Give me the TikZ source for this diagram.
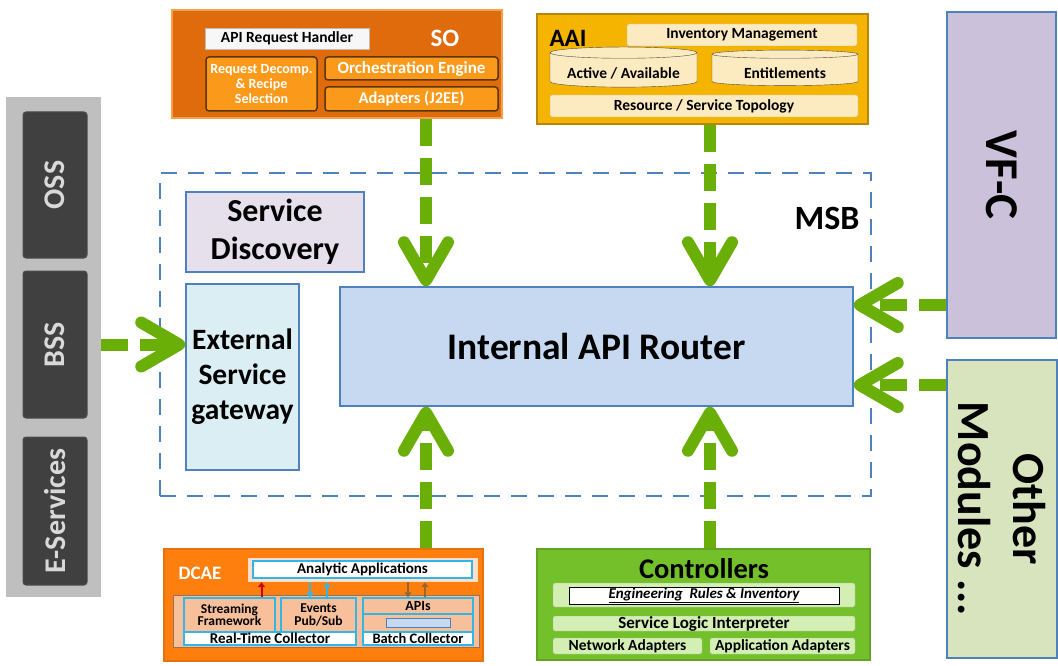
\documentclass[tikz,border=0pt]{standalone}
\usepackage{fontspec}
\setmainfont{Carlito}
\usepackage{xcolor}
\usepackage{tikz}
\usetikzlibrary{
  arrows.meta, positioning, shapes.geometric, calc
}
\definecolor{msBlue}{HTML}{4F81BD}
\definecolor{msGreen}{HTML}{6AAF08}
\definecolor{msGray}{HTML}{BFBFBF}
\definecolor{msDark}{HTML}{404040}
\definecolor{msLight}{HTML}{D9D9D9}
\definecolor{msLavender}{HTML}{E5E0EC}
\definecolor{msIce}{HTML}{DBEEF4}
\definecolor{msRouter}{HTML}{C6D9F1}
\definecolor{msPurple}{HTML}{CCC1DA}
\definecolor{msSage}{HTML}{D7E4BD}
\definecolor{soMain}{HTML}{DF6B0D}
\definecolor{soEdge}{HTML}{F6A04D}
\definecolor{soInner}{HTML}{FB9A1A}
\definecolor{soLine}{HTML}{5A3608}
\definecolor{aaiMain}{HTML}{F5B400}
\definecolor{aaiEdge}{HTML}{B8860B}
\definecolor{aaiCream}{HTML}{FCEBC0}
\definecolor{dcMain}{HTML}{FF7F0E}
\definecolor{dcPeach}{HTML}{F8C09A}
\definecolor{dcCyan}{HTML}{33B6E6}
\definecolor{ctMain}{HTML}{74C02A}
\definecolor{ctSoft}{HTML}{D3EFB4}
\newcommand{\msfs}[2]{\fontsize{#1}{#2}\selectfont\bfseries}
\tikzset{
  ms-box/.style={
    rectangle, draw=msBlue, line width=1.5pt, align=center, inner sep=0pt
  },
  ms-dash/.style={
    rectangle, draw=msBlue, line width=1.8pt, dash pattern=on 16pt off 11pt
  },
  ms-panel/.style={rectangle, fill=msGray, inner sep=0pt},
  ms-dark/.style={
    rectangle, rounded corners=3pt, draw=black!70, line width=1pt,
    fill=msDark, text=msLight, minimum height=64pt, inner sep=0pt,
    font=\msfs{30}{32}
  },
  ms-block/.style={rectangle, line width=2pt, inner sep=0pt},
  ms-so/.style={
    rectangle, rounded corners=3pt, draw=soLine, line width=1.5pt,
    fill=soInner, text=white, align=center, inner sep=0pt
  },
  ms-aai/.style={
    rectangle, rounded corners=2pt, draw=aaiEdge!60, fill=aaiCream,
    inner sep=0pt, font=\msfs{15.5}{17}
  },
  ms-drum/.style={
    cylinder, shape border rotate=90, aspect=0.1, draw=black!70,
    fill=aaiCream, inner sep=0pt, text height=20pt, text depth=3pt,
    font=\msfs{15.5}{17}
  },
  ms-dc/.style={
    rectangle, draw=dcCyan, line width=1.2pt, fill=dcPeach, align=center,
    inner sep=0pt, font=\msfs{14}{12.5}
  },
  ms-ct/.style={
    rectangle, rounded corners=2pt, draw=ctMain!60!black!50, fill=ctSoft,
    inner sep=0pt, font=\msfs{15.5}{17}
  },
  ms-flow/.style={
    draw=msGreen, line width=12pt, dash pattern=on 27pt off 12pt,
    -{Straight Barb[length=38pt, width=44pt, line width=12pt, round]}
  },
  ms-tick/.style={line width=2pt, -{Triangle[length=5pt, width=7pt]}},
}

\begin{document}
\begin{tikzpicture}[x=1pt, y=-1pt, font=\bfseries]
  \useasboundingbox (0,0) rectangle (1058,666);

  \node[ms-panel, minimum width=95pt, minimum height=500pt] (ossbss) at (53.5,347) {};
  \node[ms-dark, rotate=90, minimum width=146pt] (oss) at (55,185) {OSS};
  \node[ms-dark, rotate=90, minimum width=147pt] (bss) at (55,344.5) {BSS};
  \node[ms-dark, rotate=90, minimum width=148pt] (eserv) at (55,511) {E-Services};

  \node[ms-dash, minimum width=711pt, minimum height=323pt] (msb) at (515.5,334.5) {};
  \node[font=\msfs{34}{36}] (msblabel) at (827,218) {MSB};
  \node[ms-box, fill=msLavender, minimum width=178pt, minimum height=80pt,
        font=\msfs{32}{38}] (disc) at (275,232) {Service\\Discovery};
  \node[ms-box, fill=msIce, minimum width=113pt, minimum height=186pt,
        font=\msfs{29.5}{35}] (gw) at (242.5,377) {External\\Service\\gateway};
  \node[ms-box, fill=msRouter, minimum width=513pt, minimum height=119pt,
        font=\msfs{37.5}{40}] (router) at (596.5,346.5) {Internal API Router};

  \node[ms-box, fill=msPurple, rotate=-90, minimum width=326pt, minimum height=109pt,
        font=\msfs{47}{50}] (vfc) at (1001.5,175) {VF-C};
  \node[ms-box, fill=msSage, rotate=-90, minimum width=298pt, minimum height=110pt,
        font=\msfs{46}{55}] (others) at (1002,509) {Other\\Modules ...};

  \node[ms-block, fill=soMain, draw=soEdge, minimum width=330pt, minimum height=108pt] (so) at (337,64) {};
  \node[rectangle, fill=black!3, draw=soEdge!50!black!40, minimum width=164pt, minimum height=21pt,
        inner sep=0pt, font=\msfs{15.5}{16}] (sohandler) at (287,38.5) {API Request Handler};
  \node[text=white, font=\msfs{25}{28}] (solabel) at (445,38) {SO};
  \node[ms-so, minimum width=111pt, minimum height=54pt, font=\msfs{14}{15}] (sodecomp) at (261.5,84) {Request Decomp.\\\& Recipe\\Selection};
  \node[ms-so, minimum width=173pt, minimum height=23pt, font=\msfs{17}{18}] (soengine) at (411.5,68.5) {Orchestration Engine};
  \node[ms-so, minimum width=173pt, minimum height=24pt, font=\msfs{16.5}{18}] (soadapt) at (411.5,99) {Adapters (J2EE)};

  \node[ms-block, fill=aaiMain, draw=aaiEdge, minimum width=331pt, minimum height=110pt] (aai) at (702.5,69) {};
  \node[font=\msfs{25}{28}] (aailabel) at (568,38) {AAI};
  \node[ms-aai, minimum width=230pt, minimum height=22pt] (aaiinv) at (742,35) {Inventory Management};
  \node[ms-drum, minimum width=147pt, minimum height=30pt] (aaiactive) at (623.5,70) {Active / Available};
  \node[ms-drum, minimum width=146pt, minimum height=30pt] (aaient) at (785,70) {Entitlements};
  \node[ms-aai, minimum width=308pt, minimum height=22pt] (aaitopo) at (704,106) {Resource / Service Topology};

  \node[ms-block, fill=dcMain, draw=dcMain!90!black, minimum width=319pt, minimum height=112pt] (dcae) at (323.5,605) {};
  \node[text=white, font=\msfs{19}{22}] (dclabel) at (200,573) {DCAE};
  \node[rectangle, fill=dcPeach!50!white, minimum width=230pt, minimum height=24pt] (dcframe) at (363,570) {};
  \node[ms-dc, fill=white, minimum width=219pt, minimum height=17pt, font=\msfs{15}{16}] (dcana) at (362.5,569.5) {Analytic Applications};
  \node[rectangle, fill=dcPeach, draw=dcPeach!60!black, minimum width=306pt, minimum height=52pt] (dcpanel) at (326,621) {};
  \node[ms-dc, minimum width=91pt, minimum height=34pt, font=\msfs{13.5}{12.5}] (dcstream) at (229.5,615) {Streaming\\Framework};
  \node[ms-dc, minimum width=75pt, minimum height=34pt, font=\msfs{13.5}{12.5}] (dcevents) at (318.5,615) {Events\\Pub/Sub};
  \node[ms-dc, fill=white, minimum width=172pt, minimum height=13pt, font=\msfs{15}{16}] (dcrt) at (270,638.5) {Real-Time Collector};
  \node[ms-dc, minimum width=110pt, minimum height=47pt] (dcbatch) at (418,621.5) {};
  \node[ms-dc, minimum width=110pt, minimum height=16pt] (dcapis) at (418,606) {APIs};
  \node[cylinder, shape border rotate=90, aspect=0.1, draw=msBlue, fill=msRouter,
        minimum width=64pt, minimum height=9pt, inner sep=0pt] (dcdisk) at (418,623) {};
  \node[ms-dc, fill=white, minimum width=110pt, minimum height=13pt, font=\msfs{14.5}{16}] (dcbc) at (418,638.5) {Batch Collector};

  \node[ms-block, fill=ctMain, draw=ctMain!85!black, minimum width=333pt, minimum height=111pt] (ctrl) at (703.5,604.5) {};
  \node[font=\msfs{28.5}{30}] (ctlabel) at (704,569) {Controllers};
  \node[ms-ct, minimum width=302pt, minimum height=24pt] (cteng) at (704,595) {};
  \node[rectangle, draw=black, line width=1pt, fill=white, minimum width=270pt, minimum height=17pt,
        inner sep=0pt, font=\fontsize{15}{16}\selectfont\bfseries\itshape] (ctrules) at (704,595.5)
        {\underline{Engineering\ \ Rules \& Inventory}};
  \node[ms-ct, minimum width=302pt, minimum height=15pt, font=\msfs{17}{18}] (ctsli) at (704,623.5) {Service Logic Interpreter};
  \node[ms-ct, minimum width=149pt, minimum height=16pt] (ctnet) at (627.5,646) {Network Adapters};
  \node[ms-ct, minimum width=145pt, minimum height=16pt] (ctapp) at (782.5,646) {Application Adapters};

  \draw[ms-tick, draw=red!80!black, fill=red!80!black] (dcstream.north) ++(32,0) coordinate (t1) -- (t1 |- dcframe.south);
  \draw[ms-tick, draw=dcCyan, fill=dcCyan] (dcevents.north) ++(-8.5,0) coordinate (t2) (t2 |- dcframe.south) -- (t2);
  \draw[ms-tick, draw=dcCyan, fill=dcCyan] (dcevents.north) ++(8.5,0) coordinate (t3) -- (t3 |- dcframe.south);
  \draw[ms-tick, draw=brown!80!black, fill=brown!80!black] (dcapis.north) ++(-10,0) coordinate (t4) (t4 |- dcframe.south) -- (t4);
  \draw[ms-tick, draw=brown!80!black, fill=brown!80!black] (dcapis.north) ++(7,0) coordinate (t5) -- (t5 |- dcframe.south);

  \draw[ms-flow] (so.south) ++(89,0) coordinate (so-out) -- (so-out |- router.north);
  \draw[ms-flow] (aai.south) ++(7.5,0) coordinate (aai-out) -- (aai-out |- router.north);
  \draw[ms-flow] (dcae.north) ++(102.5,0) coordinate (dc-out) -- (dc-out |- router.south);
  \draw[ms-flow] (ctrl.north) ++(6.5,0) coordinate (ct-out) -- (ct-out |- router.south);
  \draw[ms-flow] (ossbss.east |- bss.center) -- (gw.west |- bss.center);
  \draw[ms-flow] (router.east) ++(0,-41.5) coordinate (r-vfc) (vfc.south |- r-vfc) -- (r-vfc);
  \draw[ms-flow] (router.east) ++(0,38.5) coordinate (r-oth) (others.south |- r-oth) -- (r-oth);
\end{tikzpicture}
\end{document}
